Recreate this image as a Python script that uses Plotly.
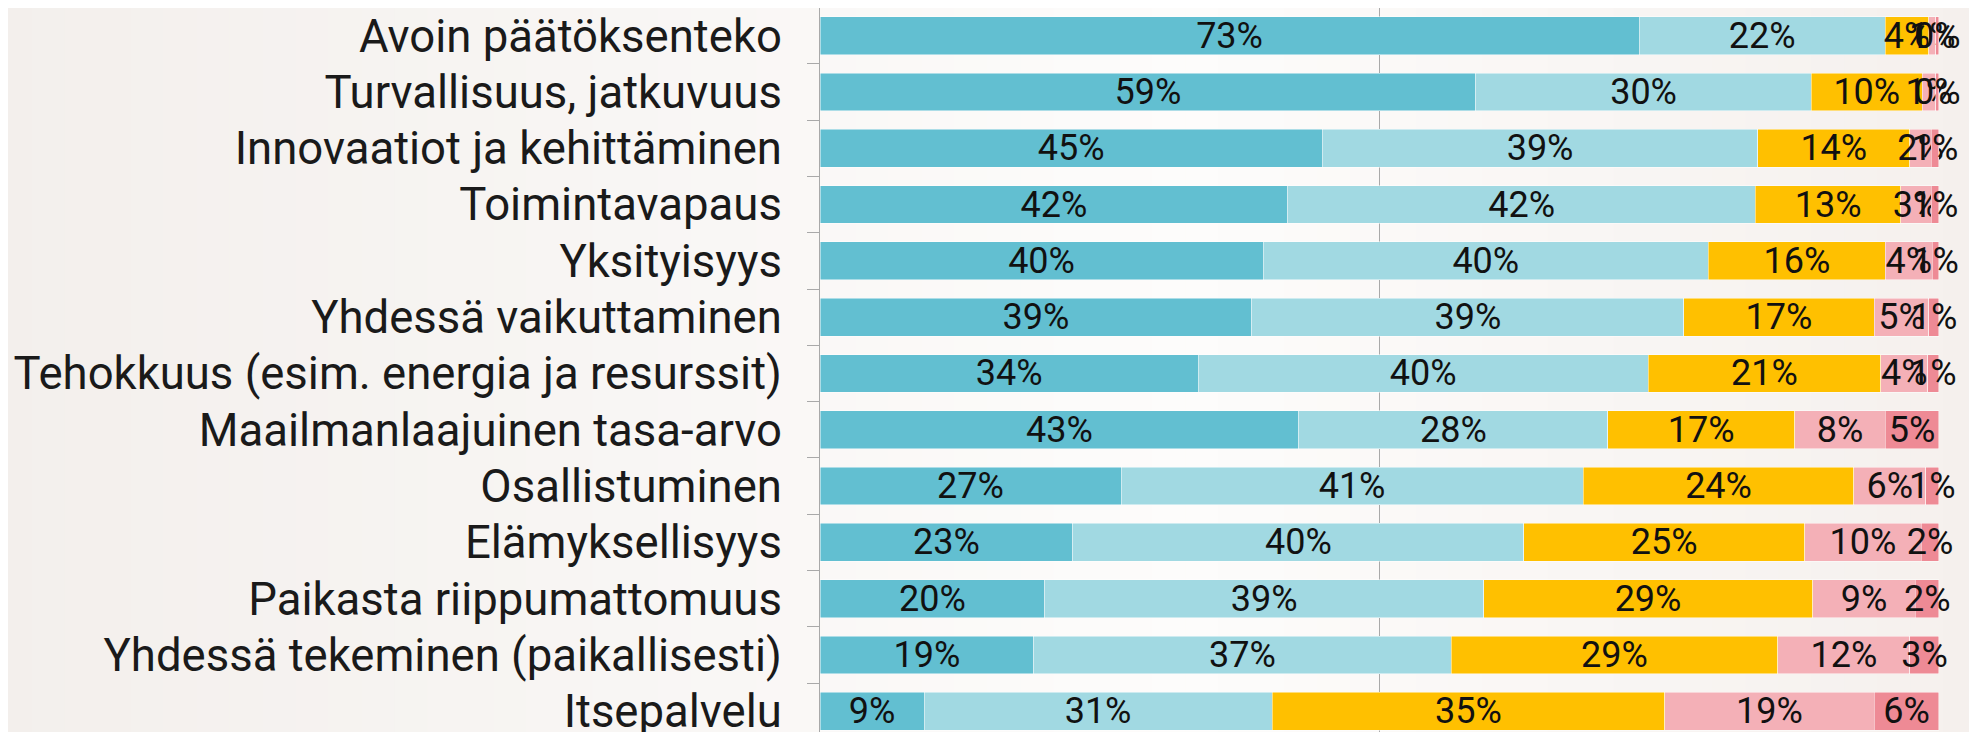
import plotly.graph_objects as go

categories = [
    "Avoin päätöksenteko",
    "Turvallisuus, jatkuvuus",
    "Innovaatiot ja kehittäminen",
    "Toimintavapaus",
    "Yksityisyys",
    "Yhdessä vaikuttaminen",
    "Tehokkuus (esim. energia ja resurssit)",
    "Maailmanlaajuinen tasa-arvo",
    "Osallistuminen",
    "Elämyksellisyys",
    "Paikasta riippumattomuus",
    "Yhdessä tekeminen (paikallisesti)",
    "Itsepalvelu",
]

s1 = [73.2, 58.6, 44.9, 41.8, 39.6, 38.6, 33.8, 42.8, 26.9, 22.6, 20.1, 19.1, 9.3]
s2 = [22.0, 30.0, 38.9, 41.8, 39.8, 38.6, 40.2, 27.6, 41.3, 40.3, 39.2, 37.3, 31.1]
s3 = [3.9, 9.9, 13.6, 13.0, 15.8, 17.0, 20.8, 16.7, 24.2, 25.1, 29.4, 29.2, 35.1]
s4 = [0.6, 1.2, 1.9, 2.7, 4.2, 4.9, 4.2, 8.1, 6.4, 10.4, 9.2, 11.8, 18.7]
s5 = [0.3, 0.3, 0.7, 0.7, 0.6, 0.9, 1.0, 4.8, 1.2, 1.6, 2.1, 2.6, 5.8]

series = [s1, s2, s3, s4, s5]
colors = ["#62BFD1", "#A1D9E2", "#FFC000", "#F4B0B7", "#EE8A95"]

W, H = 1977, 732
OFF = 8  # page body margin
fig = go.Figure()

for vals, col in zip(series, colors):
    fig.add_trace(go.Bar(
        y=categories, x=vals, orientation="h",
        marker=dict(color=col, line=dict(color="rgba(255,255,255,0.6)", width=0.8)),
        texttemplate="%{x:.0f}%", textposition="inside", insidetextanchor="middle",
        textangle=0, textfont=dict(family="Roboto", size=36, color="#111111"),
        cliponaxis=False, showlegend=False, hoverinfo="skip",
    ))

# background gradient (style only)
def lerp(c1, c2, t):
    return tuple(round(a + (b - a) * t) for a, b in zip(c1, c2))

left = (243, 239, 236)
mid = (253, 252, 251)
right = (245, 240, 237)
n = 60
L, R, T, B = 820 - OFF, 38 + OFF, 0, 0
pw = W - L - R
shapes = []
for i in range(n):
    x0 = i / n
    x1 = (i + 1) / n
    xc = (x0 + x1) / 2
    if xc < 0.6:
        c = lerp(left, mid, xc / 0.6)
    else:
        c = lerp(mid, right, (xc - 0.6) / 0.4)
    shapes.append(dict(type="rect", xref="paper", yref="paper",
                       x0=(x0 * W - OFF - 1 - L) / pw, x1=(x1 * W - OFF + 1 - L) / pw,
                       y0=-0.2, y1=1.2, line=dict(width=0),
                       fillcolor="rgb(%d,%d,%d)" % c, layer="below"))

row_px = 56.3
r0 = -0.5 + 0.5 / row_px
r1 = r0 + H / row_px

fig.update_layout(
    width=W, height=H,
    barmode="stack", bargap=0.33,
    margin=dict(l=L, r=R, t=T, b=B, autoexpand=False),
    paper_bgcolor="#F7F4F2", plot_bgcolor="rgba(0,0,0,0)",
    uniformtext=dict(mode="show", minsize=36),
    shapes=shapes,
    xaxis=dict(range=[0, 100.001], showticklabels=False, showgrid=True,
               tickmode="array", tickvals=[0, 50, 100],
               gridcolor="#A9A9A9", gridwidth=1, zeroline=False, fixedrange=True,
               automargin=False),
    yaxis=dict(categoryorder="array", categoryarray=categories, range=[r1, r0],
               showline=True, linecolor="#A9A9A9", linewidth=1,
               ticks="outside", tickson="boundaries", ticklen=12, tickcolor="#A9A9A9",
               ticklabelstandoff=28, automargin=False,
               tickfont=dict(family="Roboto", size=45.5, color="#1A1A1A"), fixedrange=True),
    showlegend=False,
)

fig.write_html("out.html")
